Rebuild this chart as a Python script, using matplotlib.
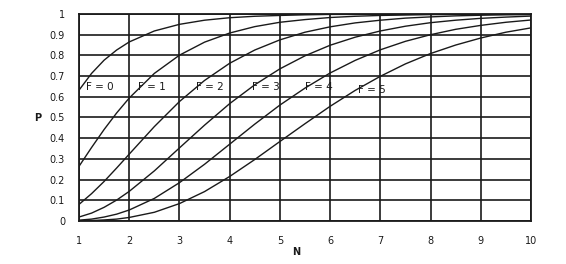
import matplotlib
matplotlib.use("Agg")
import matplotlib.pyplot as plt

N = [1, 1.25, 1.5, 1.75, 2, 2.5, 3, 3.5, 4, 4.5, 5, 5.5, 6, 6.5, 7, 7.5, 8, 8.5, 9, 9.5, 10]
P_F0 = [0.632, 0.713, 0.777, 0.826, 0.865, 0.918, 0.950, 0.970, 0.982, 0.989, 0.993, 0.996, 0.998, 0.998, 0.999, 0.999, 1.0, 1.0, 1.0, 1.0, 1.0]
P_F1 = [0.264, 0.355, 0.442, 0.522, 0.594, 0.713, 0.801, 0.864, 0.908, 0.939, 0.960, 0.973, 0.983, 0.989, 0.993, 0.995, 0.997, 0.998, 0.999, 0.999, 1.0]
P_F2 = [0.080, 0.132, 0.191, 0.256, 0.323, 0.456, 0.577, 0.679, 0.762, 0.826, 0.875, 0.912, 0.938, 0.957, 0.970, 0.980, 0.986, 0.991, 0.994, 0.996, 0.997]
P_F3 = [0.019, 0.038, 0.066, 0.101, 0.143, 0.242, 0.353, 0.463, 0.567, 0.658, 0.735, 0.798, 0.849, 0.888, 0.918, 0.941, 0.958, 0.970, 0.979, 0.985, 0.990]
P_F4 = [0.004, 0.009, 0.019, 0.033, 0.053, 0.109, 0.185, 0.274, 0.371, 0.468, 0.560, 0.642, 0.715, 0.776, 0.827, 0.868, 0.900, 0.926, 0.945, 0.960, 0.971]
P_F5 = [0.001, 0.002, 0.005, 0.009, 0.017, 0.042, 0.084, 0.142, 0.215, 0.297, 0.384, 0.470, 0.554, 0.631, 0.699, 0.759, 0.809, 0.850, 0.884, 0.912, 0.933]
series = [P_F0, P_F1, P_F2, P_F3, P_F4, P_F5]
labels = ["F = 0", "F = 1", "F = 2", "F = 3", "F = 4", "F = 5"]
label_pos = [(1.13, 0.645), (2.17, 0.645), (3.33, 0.645), (4.45, 0.645), (5.5, 0.645), (6.55, 0.635)]

x_ticks = [1, 2, 3, 4, 5, 6, 7, 8, 9, 10]
y_ticks = [0, 0.1, 0.2, 0.3, 0.4, 0.5, 0.6, 0.7, 0.8, 0.9, 1]
y_ticklabels = ["0", "0.1", "0.2", "0.3", "0.4", "0.5", "0.6", "0.7", "0.8", "0.9", "1"]

ink = "#1a1a1a"
fig = plt.figure(figsize=(5.66, 2.64), dpi=100)
ax = fig.add_axes([0.1396, 0.163, 0.7986, 0.784])

for s in series:
    ax.plot(N, s, color=ink, lw=1.0, zorder=3)

for lab, (x, y) in zip(labels, label_pos):
    ax.text(x, y, lab, fontsize=7.5, color=ink, ha="left", va="center", zorder=4)

ax.set_xlim(1, 10)
ax.set_ylim(0, 1)
ax.set_xticks(x_ticks)
ax.set_xticklabels([str(v) for v in x_ticks])
ax.set_yticks(y_ticks)
ax.set_yticklabels(y_ticklabels)
ax.grid(True, color=ink, lw=1.2, zorder=1)
ax.set_axisbelow(True)
for sp in ax.spines.values():
    sp.set_color(ink)
    sp.set_linewidth(1.3)
ax.tick_params(axis="both", length=0, labelsize=7, colors=ink)
ax.tick_params(axis="x", pad=11)
ax.tick_params(axis="y", pad=10)

fig.text(38 / 566, 1 - 118 / 264, "P", fontsize=7, color=ink, ha="center", va="center", fontweight="bold")
fig.text(296 / 566, 1 - 252 / 264, "N", fontsize=7, color=ink, ha="center", va="center", fontweight="bold")

fig.savefig("out.png", dpi=100)
